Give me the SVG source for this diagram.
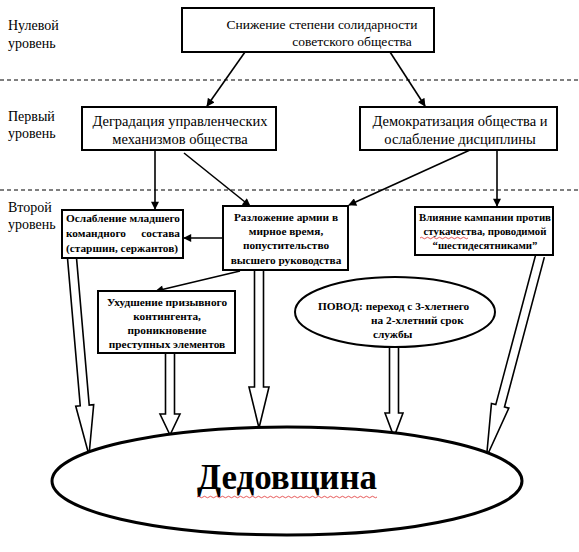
<svg xmlns="http://www.w3.org/2000/svg" width="579" height="552" viewBox="0 0 579 552" font-family="'Times New Roman', 'Liberation Serif', 'DejaVu Serif', serif">
<style>
.bg{fill:#fff}
.box{fill:#fff;stroke:#000;stroke-width:2}
.dash{stroke:#000;stroke-width:1;stroke-dasharray:4 3;fill:none}
text{font-family:'Times New Roman','Liberation Serif','DejaVu Serif',serif;fill:#000}
.lvl{font-size:14px}
.t0{font-size:13.5px;text-anchor:middle}
.t1{font-size:14.5px;text-anchor:middle}
.t2{font-size:11.3px;font-weight:bold;text-anchor:middle}
.t2l{font-size:11.3px;font-weight:bold}
.big{font-size:35px;font-weight:bold;text-anchor:middle}
.ln{stroke:#000;stroke-width:1.6;fill:none;marker-end:url(#ah)}
.hol{fill:#fff;stroke:#000;stroke-width:1.6;stroke-linejoin:miter}
.wave{fill:none;stroke:#e03030;stroke-width:0.8}
</style>
<defs>
<marker id="ah" viewBox="0 0 10 10" refX="9" refY="5" markerWidth="9" markerHeight="8" markerUnits="userSpaceOnUse" orient="auto">
<path d="M0,0 L10,5 L0,10 z" fill="#000"/>
</marker>
</defs>
<rect class="bg" x="0" y="0" width="579" height="552"/>

<g id="levels">
<line class="dash" x1="0" y1="80" x2="579" y2="80"/>
<line class="dash" x1="0" y1="190" x2="579" y2="190"/>
<text class="lvl" x="8" y="30">Нулевой</text>
<text class="lvl" x="8" y="48">уровень</text>
<text class="lvl" x="8" y="121">Первый</text>
<text class="lvl" x="8" y="138">уровень</text>
<text class="lvl" x="8" y="212">Второй</text>
<text class="lvl" x="8" y="229">уровень</text>
</g>

<g id="connectors">
<line class="ln" x1="245" y1="52" x2="207" y2="106"/>
<line class="ln" x1="390" y1="52" x2="425" y2="106"/>
<line class="ln" x1="155" y1="150" x2="155" y2="209"/>
<line class="ln" x1="184" y1="153" x2="250" y2="206"/>
<line class="ln" x1="470" y1="150" x2="349" y2="205"/>
<line class="ln" x1="497" y1="150" x2="497" y2="206"/>
<line class="ln" x1="223" y1="238" x2="184" y2="238"/>
<line class="ln" x1="240" y1="271" x2="156" y2="291"/>
<path class="hol" transform="translate(72,258) rotate(-4.93)" d="M-4.5,0 L-4.5,148 L-9,148 L0,198 L9,148 L4.5,148 L4.5,0"/>
<path class="hol" transform="translate(170,353)" d="M-4.5,0 L-4.5,61 L-10,61 L0,82 L10,61 L4.5,61 L4.5,0"/>
<path class="hol" transform="translate(259,271)" d="M-4.5,0 L-4.5,116 L-10,116 L0,157 L10,116 L4.5,116 L4.5,0"/>
<path class="hol" transform="translate(394,347)" d="M-4.5,0 L-4.5,66 L-9,66 L0,90 L9,66 L4.5,66 L4.5,0"/>
<path class="hol" transform="translate(540,256) rotate(14.9)" d="M-4.5,0 L-4.5,155 L-9,155 L0,208 L9,155 L4.5,155 L4.5,0"/>
</g>

<g id="n0">
<rect class="box" x="182" y="8" width="252" height="44"/>
<text class="t0" x="322" y="29">Снижение степени солидарности</text>
<text class="t0" x="352" y="46">советского общества</text>
</g>

<g id="n1a">
<rect class="box" x="82" y="107" width="194" height="43"/>
<text class="t1" x="180" y="126">Деградация управленческих</text>
<text class="t1" x="180" y="144">механизмов общества</text>
</g>

<g id="n1b">
<rect class="box" x="360" y="107" width="197" height="43"/>
<text class="t1" x="460" y="126">Демократизация общества и</text>
<text class="t1" x="460" y="144">ослабление дисциплины</text>
</g>

<g id="n2a">
<rect class="box" x="62" y="210" width="121" height="48"/>
<text class="t2l" x="66" y="222">Ослабление</text>
<text class="t2l" x="180" y="222" text-anchor="end">младшего</text>
<text class="t2l" x="66" y="237">командного</text>
<text class="t2l" x="180" y="237" text-anchor="end">состава</text>
<text class="t2l" x="66" y="252">(старшин, сержантов)</text>
</g>

<g id="n2b">
<rect class="box" x="223" y="206" width="125" height="64"/>
<text class="t2" x="286" y="221">Разложение армии в</text>
<text class="t2" x="286" y="235">мирное время,</text>
<text class="t2" x="286" y="249">попустительство</text>
<text class="t2" x="286" y="264">высшего руководства</text>
</g>

<g id="n2c">
<rect class="box" x="415" y="207" width="138" height="48"/>
<text class="t2" x="485" y="221" style="font-size:10.8px">Влияние кампании против</text>
<text class="t2" x="485" y="235" style="font-size:10.8px">стукачества, проводимой</text>
<text class="t2" x="485" y="249" style="font-size:10.8px">“шестидесятниками”</text>
<path class="wave" d="M420,238 q1.5,-1.5 3,0 t3,0 t3,0 t3,0 t3,0 t3,0 t3,0 t3,0 t3,0 t3,0 t3,0 t3,0 t3,0 t3,0 t3,0 t3,0"/>
</g>

<g id="n3a">
<rect class="box" x="98" y="291" width="137" height="62"/>
<text class="t2" x="167" y="306">Ухудшение призывного</text>
<text class="t2" x="167" y="320">контингента,</text>
<text class="t2" x="167" y="334">проникновение</text>
<text class="t2" x="167" y="348">преступных элементов</text>
</g>

<g id="n3b">
<ellipse class="box" cx="395" cy="312" rx="100" ry="35"/>
<text class="t2l" x="318" y="310">ПОВОД: переход с 3-хлетнего</text>
<text class="t2l" x="371" y="324">на 2-хлетний срок</text>
<text class="t2l" x="373" y="338">службы</text>
</g>

<g id="n4">
<ellipse class="box" cx="287" cy="481" rx="235" ry="54" style="stroke-width:3"/>
<text class="big" x="287" y="489">Дедовщина</text>
<path class="wave" d="M197,497 q1.5,-1.5 3,0 t3,0 t3,0 t3,0 t3,0 t3,0 t3,0 t3,0 t3,0 t3,0 t3,0 t3,0 t3,0 t3,0 t3,0 t3,0 t3,0 t3,0 t3,0 t3,0 t3,0 t3,0 t3,0 t3,0 t3,0 t3,0 t3,0 t3,0 t3,0 t3,0 t3,0 t3,0 t3,0 t3,0 t3,0 t3,0 t3,0 t3,0 t3,0 t3,0 t3,0 t3,0 t3,0 t3,0 t3,0 t3,0 t3,0 t3,0 t3,0 t3,0 t3,0 t3,0 t3,0 t3,0 t3,0 t3,0 t3,0 t3,0 t3,0 t3,0"/>
</g>
</svg>
